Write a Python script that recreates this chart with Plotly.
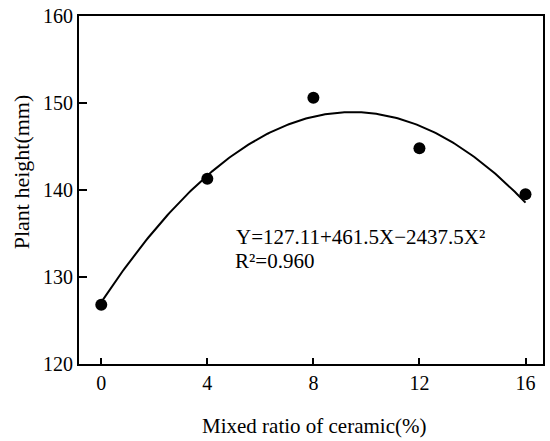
import numpy as np
import plotly.graph_objects as go

# Data
ratio = [0, 4, 8, 12, 16]              # mixed ratio of ceramic (%)
height = [126.8, 141.3, 150.6, 144.8, 139.5]  # plant height (mm)
coef = [127.11, 461.5, -2437.5]        # Y = a + bX + cX^2, X as fraction
x_ticks = [0, 4, 8, 12, 16]
y_ticks = [120, 130, 140, 150, 160]

xf = np.linspace(0, 16, 200)
X = xf / 100.0
yf = coef[0] + coef[1] * X + coef[2] * X ** 2

font = "Liberation Serif, Times New Roman, serif"

fig = go.Figure()
fig.add_trace(go.Scatter(x=xf, y=yf, mode="lines",
                         line=dict(color="black", width=2), showlegend=False))
fig.add_trace(go.Scatter(x=ratio, y=height, mode="markers",
                         marker=dict(color="black", size=12), showlegend=False))

fig.update_layout(
    width=550, height=441,
    margin=dict(l=79, r=5, t=11, b=77),
    paper_bgcolor="white", plot_bgcolor="white",
    font=dict(family=font, size=20, color="black"),
    xaxis=dict(range=[-0.84, 16.66], tickvals=x_ticks, ticks="inside", ticklen=6,
               tickwidth=1.5, tickcolor="black", ticklabeloverflow="allow",
               showline=True, linecolor="black", linewidth=2, mirror=True,
               showgrid=False, zeroline=False, tickfont=dict(size=20)),
    yaxis=dict(range=[120, 160], tickvals=y_ticks, ticks="inside", ticklen=8,
               tickwidth=1.5, tickcolor="black", ticklabeloverflow="allow",
               showline=True, linecolor="black", linewidth=2, mirror=True,
               showgrid=False, zeroline=False, tickfont=dict(size=20)),
    annotations=[
        dict(text="Mixed ratio of ceramic(%)", xref="paper", yref="paper",
             x=0.506, y=-0.178, xanchor="center", yanchor="middle",
             showarrow=False, font=dict(size=21)),
        dict(text="Plant height(mm)", xref="paper", yref="paper",
             x=-0.122, y=0.552, xanchor="center", yanchor="middle", textangle=-90,
             showarrow=False, font=dict(size=22)),
        dict(text="Y=127.11+461.5X−2437.5X²",
             xref="x", yref="y", x=5.0, y=134.6, xanchor="left", yanchor="middle",
             align="left", showarrow=False, font=dict(size=21)),
        dict(text="R²=0.960",
             xref="x", yref="y", x=4.95, y=131.8, xanchor="left", yanchor="middle",
             align="left", showarrow=False, font=dict(size=21)),
    ],
)

fig.write_html("out.html", config={"displayModeBar": False},
               post_script="document.body.style.margin='0';")
